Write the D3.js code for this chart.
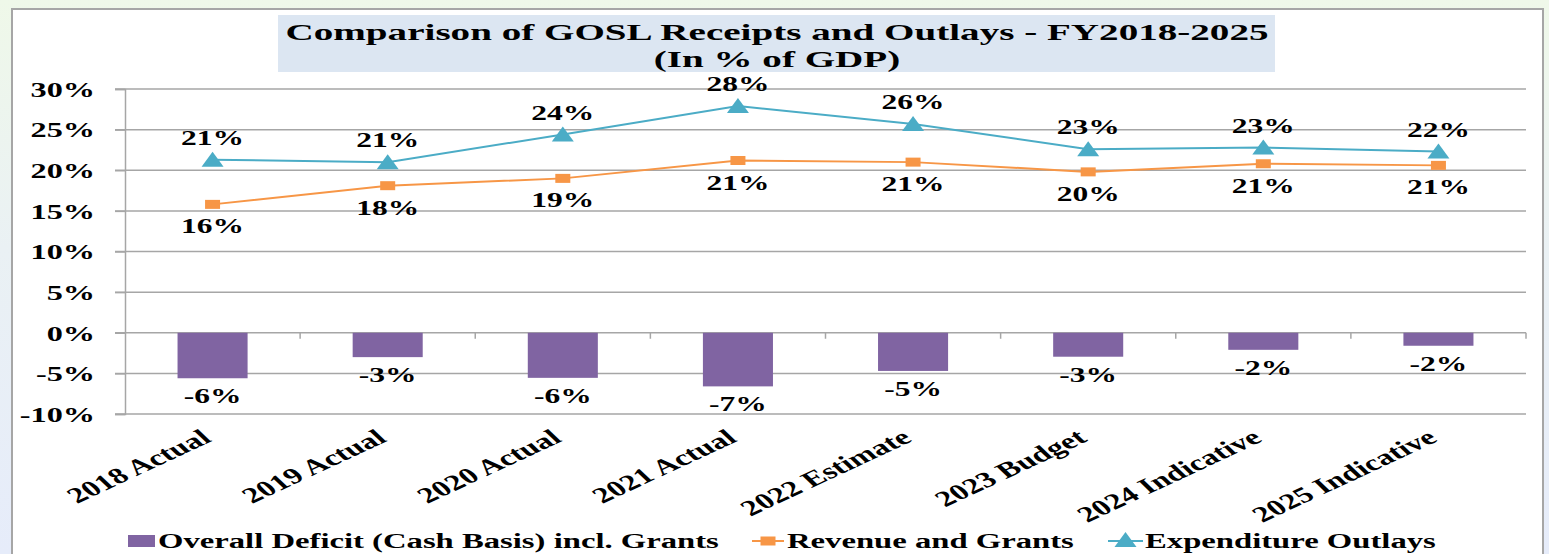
<!DOCTYPE html>
<html>
<head>
<meta charset="utf-8">
<script src="https://cdn.jsdelivr.net/npm/d3@7"></script>
<style>
  html, body { margin: 0; padding: 0; }
  body {
    width: 1549px; height: 554px; overflow: hidden;
    background: linear-gradient(180deg, #eff8e9 0%, #eaf1f4 45%, #e6ecfa 100%);
  }
  svg { display: block; }
  .lbl { font-family: "Liberation Serif", "Times New Roman", serif; font-weight: bold; fill: #000; }
</style>
</head>
<body>
<div id="chart"></div>
<script>
// data (% of GDP)
var categories = ["2018 Actual", "2019 Actual", "2020 Actual", "2021 Actual",
                  "2022 Estimate", "2023 Budget", "2024 Indicative", "2025 Indicative"];
var deficit     = [-5.6, -3.0, -5.55, -6.6, -4.7, -2.95, -2.1, -1.6];
var revenue     = [15.8, 18.1, 19.0, 21.2, 21.0, 19.8, 20.8, 20.6];
var expenditure = [21.3, 21.0, 24.4, 27.9, 25.7, 22.6, 22.8, 22.3];
var yTicks = [-10, -5, 0, 5, 10, 15, 20, 25, 30];
var seriesNames = ["Overall Deficit (Cash Basis) incl. Grants", "Revenue and Grants", "Expenditure Outlays"];
var titleLines = ["Comparison of GOSL Receipts and Outlays - FY2018-2025", "(In % of GDP)"];

var W = 1549, H = 554;
var SX = 1.5; // the reference text is stretched wide
var purple = "#8064a2", orange = "#f79646", blue = "#4bacc6", grid = "#a6a6a6";
var pct = function(v){ return Math.round(v) + "%"; };

var svg = d3.select("#chart").append("svg").attr("width", W).attr("height", H);

// chart frame
svg.append("rect").attr("x", 12).attr("y", 9).attr("width", 1531).attr("height", 560)
  .attr("fill", "#fff").attr("stroke", grid).attr("stroke-width", 2);

// title
svg.append("rect").attr("x", 278).attr("y", 15).attr("width", 997).attr("height", 57).attr("fill", "#dce6f2");
svg.selectAll("text.title").data(titleLines).enter()
  .append("text").attr("class", "title lbl")
  .attr("text-anchor", "middle").style("font-size", "24px")
  .attr("transform", function(d, i){ return "translate(777," + (40 + i * 27) + ") scale(1.63,1)"; })
  .text(function(d){ return d; });

// scales
var x = d3.scaleBand().domain(categories).range([125, 1526]).paddingInner(0.6).paddingOuter(0.3);
var y = d3.scaleLinear().domain([-10, 30]).range([414, 89]);
var cx = function(i){ return x(categories[i]) + x.bandwidth() / 2; };
var step = x.step();

// gridlines
svg.append("g").selectAll("line").data(yTicks).enter()
  .append("line")
  .attr("x1", 115).attr("x2", 1526)
  .attr("y1", function(d){ return y(d); }).attr("y2", function(d){ return y(d); })
  .attr("stroke", grid).attr("stroke-width", 1.5);

// y axis
var yAxis = svg.append("g").attr("transform", "translate(125,0)")
  .call(d3.axisLeft(y).tickValues(yTicks).tickSize(10).tickFormat(function(d){ return d + "%"; }));
yAxis.select(".domain").attr("stroke", grid).attr("stroke-width", 1.5);
yAxis.selectAll(".tick line").attr("stroke", grid).attr("stroke-width", 1.5);
yAxis.selectAll(".tick text").attr("class", "lbl")
  .attr("x", -20).attr("dy", "0.34em")
  .attr("transform", "scale(" + SX + ",1)")
  .style("font-size", "21.5px").attr("font-family", null);

// category tick marks on the zero line
var bounds = d3.range(1, categories.length + 1).map(function(i){ return 125 + i * step; });
svg.append("g").selectAll("line").data(bounds).enter()
  .append("line")
  .attr("x1", function(d){ return d; }).attr("x2", function(d){ return d; })
  .attr("y1", y(0)).attr("y2", y(0) + 6)
  .attr("stroke", grid).attr("stroke-width", 1.5);

// deficit bars
var bars = svg.append("g");
bars.selectAll("rect").data(deficit).enter()
  .append("rect")
  .attr("x", function(d, i){ return x(categories[i]); })
  .attr("width", x.bandwidth())
  .attr("y", y(0))
  .attr("height", function(d){ return y(d) - y(0); })
  .attr("fill", purple);
bars.selectAll("text").data(deficit).enter()
  .append("text").attr("class", "lbl").attr("text-anchor", "middle").style("font-size", "21px")
  .attr("transform", function(d, i){ return "translate(" + cx(i) + "," + (y(d) + 25) + ") scale(" + SX + ",1)"; })
  .text(pct);

// lines
var line = d3.line().x(function(d, i){ return cx(i); }).y(function(d){ return y(d); });

svg.append("path").datum(revenue).attr("d", line)
  .attr("fill", "none").attr("stroke", orange).attr("stroke-width", 2);
svg.append("path").datum(expenditure).attr("d", line)
  .attr("fill", "none").attr("stroke", blue).attr("stroke-width", 2);

var square = function(g, px, py){
  g.append("rect").attr("x", px - 7.5).attr("y", py - 4.5).attr("width", 15).attr("height", 9).attr("fill", orange);
};
var triangle = function(g, px, py){
  g.append("path").attr("d", "M" + (px - 11) + "," + (py + 7) + "L" + px + "," + (py - 8) + "L" + (px + 11) + "," + (py + 7) + "Z")
    .attr("fill", blue);
};

var revG = svg.append("g");
revenue.forEach(function(v, i){ square(revG, cx(i), y(v)); });
revG.selectAll("text").data(revenue).enter()
  .append("text").attr("class", "lbl").attr("text-anchor", "middle").style("font-size", "21px")
  .attr("transform", function(d, i){ return "translate(" + cx(i) + "," + (y(d) + 29) + ") scale(" + SX + ",1)"; })
  .text(pct);

var expG = svg.append("g");
expenditure.forEach(function(v, i){ triangle(expG, cx(i), y(v)); });
expG.selectAll("text").data(expenditure).enter()
  .append("text").attr("class", "lbl").attr("text-anchor", "middle").style("font-size", "21px")
  .attr("transform", function(d, i){ return "translate(" + cx(i) + "," + (y(d) - 15) + ") scale(" + SX + ",1)"; })
  .text(pct);

// category labels, rotated
svg.append("g").selectAll("text").data(categories).enter()
  .append("text").attr("class", "lbl").attr("text-anchor", "end").style("font-size", "22px")
  .attr("dy", "0.7em")
  .attr("transform", function(d, i){ return "translate(" + (cx(i) - 13) + ",428) scale(" + SX + ",1) rotate(-35)"; })
  .text(function(d){ return d; });

// legend
var legend = svg.append("g").attr("transform", "translate(0,548)");
legend.append("rect").attr("x", 128).attr("y", -13).attr("width", 27).attr("height", 12).attr("fill", purple);
legend.append("line").attr("x1", 752).attr("x2", 784).attr("y1", -7).attr("y2", -7).attr("stroke", orange).attr("stroke-width", 2);
square(legend, 768, -7);
legend.append("line").attr("x1", 1108).attr("x2", 1143).attr("y1", -7).attr("y2", -7).attr("stroke", blue).attr("stroke-width", 2);
triangle(legend, 1125.5, -8);
var legendX = [158, 787, 1145];
legend.selectAll("text").data(seriesNames).enter()
  .append("text").attr("class", "lbl").style("font-size", "21.8px")
  .attr("transform", function(d, i){ return "translate(" + legendX[i] + ",0) scale(" + SX + ",1)"; })
  .text(function(d){ return d; });
</script>
</body>
</html>
